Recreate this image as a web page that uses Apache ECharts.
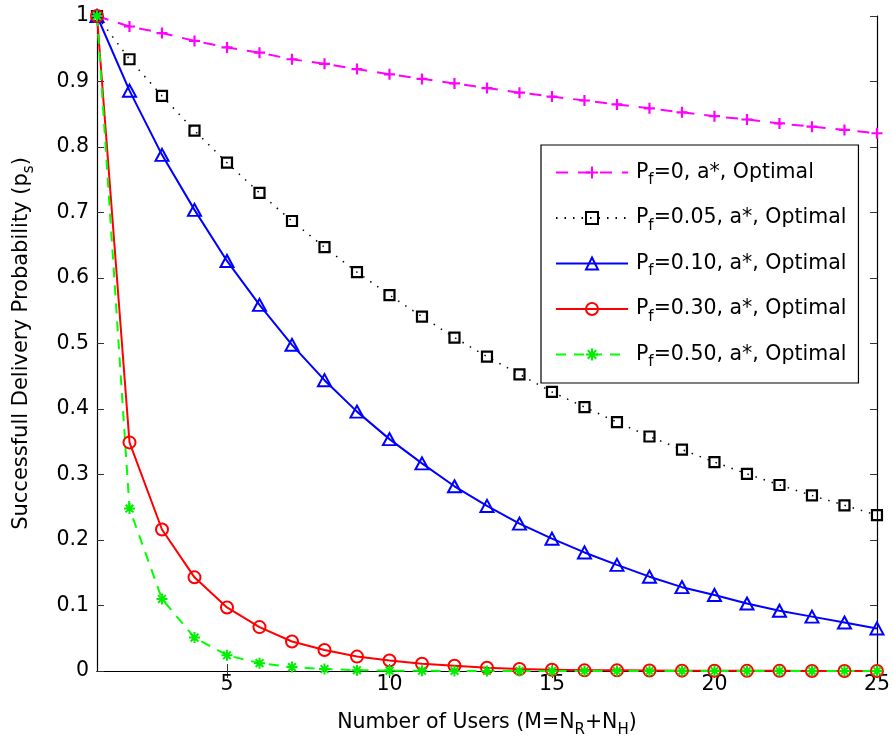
<!DOCTYPE html>
<html>
<head>
<meta charset="utf-8">
<script src="https://cdn.jsdelivr.net/npm/echarts@6/dist/echarts.min.js"></script>
<style>
html,body{margin:0;padding:0;background:#fff;}
#chart{width:893px;height:743px;}
</style>
</head>
<body>
<div id="chart"></div>
<script>
// Number of users M
var users = [1,2,3,4,5,6,7,8,9,10,11,12,13,14,15,16,17,18,19,20,21,22,23,24,25];
// Successful delivery probability
var pf000 = [1.000,0.984,0.974,0.962,0.952,0.944,0.934,0.927,0.919,0.911,0.904,0.897,0.890,0.883,0.877,0.871,0.865,0.859,0.853,0.847,0.842,0.836,0.831,0.826,0.821];
var pf005 = [1.000,0.934,0.878,0.825,0.776,0.730,0.687,0.647,0.609,0.574,0.541,0.509,0.480,0.453,0.426,0.403,0.380,0.358,0.338,0.319,0.301,0.284,0.268,0.253,0.238];
var pf010 = [1.000,0.886,0.788,0.704,0.626,0.559,0.498,0.444,0.396,0.354,0.317,0.282,0.252,0.225,0.202,0.181,0.162,0.144,0.128,0.116,0.103,0.092,0.083,0.074,0.065];
var pf030 = [1.000,0.349,0.216,0.143,0.097,0.067,0.045,0.032,0.022,0.016,0.011,0.008,0.005,0.003,0.002,0.001,0.001,0.0007,0.0005,0.0003,0.0002,0.0002,0.0001,0.0001,0.0001];
var pf050 = [1.000,0.248,0.110,0.051,0.024,0.012,0.006,0.003,0.0012,0.0006,0.0003,0.0001,0.0001,0,0,0,0,0,0,0,0,0,0,0,0];
var xTicks = [5,10,15,20,25];
var legendNames = ['P{s|f}=0, a*, Optimal','P{s|f}=0.05, a*, Optimal','P{s|f}=0.10, a*, Optimal','P{s|f}=0.30, a*, Optimal','P{s|f}=0.50, a*, Optimal'];

function pairs(ys){ return users.map(function(x,i){ return [x, ys[i]]; }); }

var FONT = '"DejaVu Sans", Verdana, sans-serif';
var plusPath = 'path://M0,5H10M5,0V10';
var starPath = 'path://M0,5H10M5,0V10M1.5,1.5L8.5,8.5M1.5,8.5L8.5,1.5';
var subStyle = {fontSize:15, fontFamily:FONT, color:'#000', padding:[16,0,0,0]};

var chart = echarts.init(document.getElementById('chart'), null, {renderer:'canvas'});
var axisCommon = {
  axisLine:{show:true, lineStyle:{color:'#000', width:1.2}},
  axisTick:{show:true, inside:true, length:7, lineStyle:{color:'#333', width:1}},
  splitLine:{show:false}
};
var option = {
  backgroundColor:'#fff',
  animation:false,
  grid:{left:97, right:15, top:16, bottom:72, show:false},
  xAxis:[
    Object.assign({}, axisCommon, {
      type:'value', min:1, max:25, position:'bottom',
      axisTick:{show:true, inside:true, length:7, customValues:xTicks, lineStyle:{color:'#333', width:1}},
      axisLabel:{customValues:xTicks, color:'#000', fontFamily:FONT, fontSize:20.5, margin:3},
      name:'Number of Users (M=N{s|R}+N{s|H})',
      nameLocation:'middle', nameGap:36,
      nameTextStyle:{color:'#000', fontFamily:FONT, fontSize:20.5, rich:{s:subStyle}}
    }),
    Object.assign({}, axisCommon, {
      type:'value', min:1, max:25, position:'top',
      axisTick:{show:true, inside:true, length:7, customValues:xTicks, lineStyle:{color:'#333', width:1}},
      axisLabel:{show:false}
    })
  ],
  yAxis:[
    Object.assign({}, axisCommon, {
      type:'value', min:0, max:1, interval:0.1, position:'left',
      axisLabel:{color:'#000', fontFamily:FONT, fontSize:20.5, margin:8},
      name:'Successfull Delivery Probability (p{s|s})',
      nameLocation:'middle', nameGap:60,
      nameTextStyle:{color:'#000', fontFamily:FONT, fontSize:21, rich:{s:subStyle}}
    }),
    Object.assign({}, axisCommon, {
      type:'value', min:0, max:1, interval:0.1, position:'right',
      axisLabel:{show:false}
    })
  ],
  legend:{
    orient:'vertical', left:541, top:145,
    backgroundColor:'#fff', borderColor:'#000', borderWidth:1.2,
    padding:[17,12,13,14],
    itemWidth:72, itemHeight:15, itemGap:19.5,
    textStyle:{color:'#000', fontFamily:FONT, fontSize:20.5, padding:[0,0,0,3], rich:{s:subStyle}},
    data:legendNames
  },
  series:[
    {name:legendNames[0], type:'line', data:pairs(pf000), symbol:plusPath, symbolSize:11,
      lineStyle:{color:'#ff00ff', width:2, type:[12,10]},
      itemStyle:{color:'rgba(0,0,0,0)', borderColor:'#ff00ff', borderWidth:2.2}},
    {name:legendNames[1], type:'line', data:pairs(pf005), symbol:'rect', symbolSize:10,
      lineStyle:{color:'#000', width:1.5, type:[1.5,7]},
      itemStyle:{color:'rgba(0,0,0,0)', borderColor:'#000', borderWidth:2.2}},
    {name:legendNames[2], type:'line', data:pairs(pf010), symbol:'triangle', symbolSize:[13,12],
      lineStyle:{color:'#0000ff', width:2},
      itemStyle:{color:'rgba(0,0,0,0)', borderColor:'#0000ff', borderWidth:2}},
    {name:legendNames[3], type:'line', data:pairs(pf030), symbol:'circle', symbolSize:12,
      lineStyle:{color:'#ff0000', width:2},
      itemStyle:{color:'rgba(0,0,0,0)', borderColor:'#ff0000', borderWidth:2}},
    {name:legendNames[4], type:'line', data:pairs(pf050), symbol:starPath, symbolSize:11,
      lineStyle:{color:'#00ff00', width:2, type:[10,8]},
      itemStyle:{color:'rgba(0,0,0,0)', borderColor:'#00ee00', borderWidth:2}}
  ]
};
chart.setOption(option);
</script>
</body>
</html>
